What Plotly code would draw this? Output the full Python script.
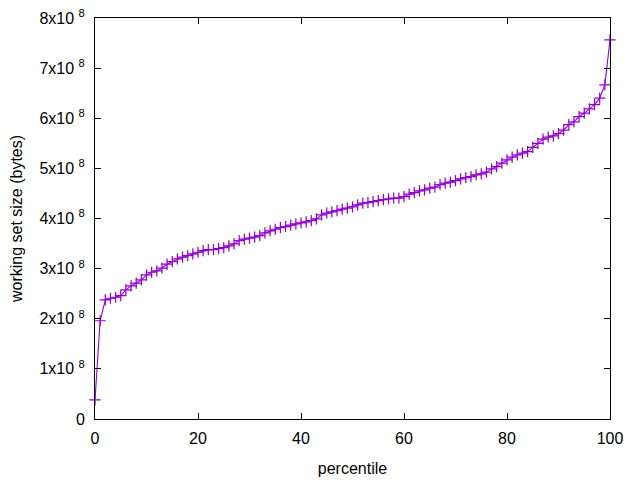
import plotly.graph_objects as go

percentile = list(range(0, 101))
working_set_1e8 = [
    0.38, 1.96, 2.375, 2.409, 2.429, 2.461, 2.575, 2.655, 2.709, 2.774,
    2.874, 2.928, 2.954, 3.008, 3.088, 3.140, 3.194, 3.228, 3.259, 3.293,
    3.327, 3.359, 3.379, 3.379, 3.399, 3.419, 3.453, 3.493, 3.559, 3.587,
    3.607, 3.627, 3.659, 3.713, 3.752, 3.786, 3.818, 3.838, 3.866, 3.892,
    3.912, 3.932, 3.958, 3.992, 4.072, 4.106, 4.132, 4.158, 4.186, 4.206,
    4.232, 4.271, 4.305, 4.317, 4.337, 4.357, 4.377, 4.391, 4.405, 4.405,
    4.437, 4.485, 4.517, 4.551, 4.571, 4.605, 4.625, 4.675, 4.705, 4.725,
    4.756, 4.790, 4.816, 4.836, 4.870, 4.890, 4.924, 4.990, 5.036, 5.104,
    5.170, 5.224, 5.269, 5.303, 5.335, 5.419, 5.499, 5.583, 5.623, 5.649,
    5.695, 5.762, 5.874, 5.928, 6.034, 6.102, 6.188, 6.273, 6.401, 6.667,
    7.565,
]
working_set_bytes = [v * 1e8 for v in working_set_1e8]

x_ticks = [0, 20, 40, 60, 80, 100]
y_ticks = [0, 1e8, 2e8, 3e8, 4e8, 5e8, 6e8, 7e8, 8e8]
y_tick_labels = ["0"] + [f"{i}x10 <sup>8</sup>" for i in range(1, 9)]

x_title = "percentile"
y_title = "working set size (bytes)"

color = "#9400D3"
font_family = "Liberation Sans, Arial, sans-serif"
fsize = 16

fig = go.Figure()
fig.add_trace(go.Scatter(
    x=percentile, y=working_set_bytes,
    mode="lines+markers",
    line=dict(color=color, width=1.1),
    marker=dict(symbol="cross-thin", size=8, line=dict(color=color, width=1.2), color=color),
    showlegend=False, cliponaxis=False,
))

axis_common = dict(
    showline=True, linecolor="black", linewidth=1, mirror="allticks",
    ticks="inside", ticklen=6, tickcolor="black", tickwidth=1,
    showgrid=False, zeroline=False, automargin=False,
    ticklabeloverflow="allow",
    tickfont=dict(family=font_family, size=fsize, color="black"),
    title_font=dict(family=font_family, size=fsize, color="black"),
)

fig.update_xaxes(range=[0, 100], tickvals=x_ticks, title_text=x_title,
                 title_standoff=16, ticklabelstandoff=5, **axis_common)
fig.update_yaxes(range=[0, 8e8], tickvals=y_ticks, ticktext=y_tick_labels,
                 title_text=y_title, title_standoff=14, ticklabelstandoff=6, **axis_common)

fig.update_layout(
    width=632, height=472,
    margin=dict(l=87, r=30, t=10, b=61),
    plot_bgcolor="white", paper_bgcolor="white",
    font=dict(family=font_family, size=fsize, color="black"),
)

fig.write_html("out.html")
